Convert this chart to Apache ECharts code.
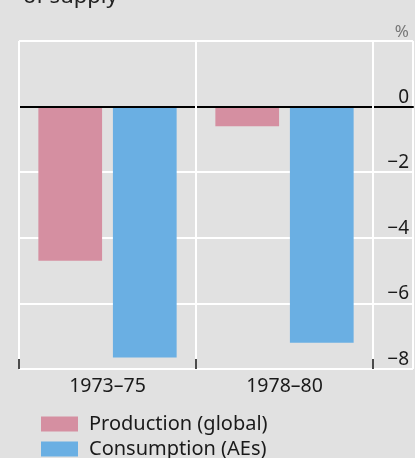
<!DOCTYPE html>
<html>
<head>
<meta charset="utf-8">
<script src="https://cdn.jsdelivr.net/npm/echarts@6/dist/echarts.min.js"></script>
<style>
html,body{margin:0;padding:0;background:#e1e1e1;}
#c{width:415px;height:458px;}
</style>
</head>
<body>
<div id="c"></div>
<script>
const categories = ['1973–75', '1978–80'];
const production = [-4.7, -0.6];
const consumption = [-7.65, -7.2];
const yTickValues = [-8, -6, -4, -2, 0, 2];
const yTickLabels = ['−8', '−6', '−4', '−2', '0', '%'];
const seriesNames = ['Production (global)', 'Consumption (AEs)'];

const FONT = 'Noto Sans';
const chart = echarts.init(document.getElementById('c'), null, {renderer: 'canvas'});
const legendCommon = {
  left: 41, padding: 0, itemWidth: 37, itemHeight: 15, icon: 'rect',
  textStyle: {fontFamily: FONT, fontSize: 20, color: '#1a1a1a', padding: [0, 0, 0, 6]}
};
const option = {
  backgroundColor: '#e1e1e1',
  textStyle: {fontFamily: FONT},
  animation: false,
  title: {
    text: 'of supply', left: 18, top: -19,
    textStyle: {fontFamily: FONT, fontSize: 22, fontWeight: 'normal', color: '#222'}
  },
  legend: [
    Object.assign({}, legendCommon, {top: 414, data: [seriesNames[0]]}),
    Object.assign({}, legendCommon, {top: 439, data: [seriesNames[1]]})
  ],
  grid: [
    {left: 19, right: 42, top: 41, bottom: 89},
    {left: 19, right: 2, top: 41, bottom: 89}
  ],
  xAxis: [
    {
      type: 'category', gridIndex: 0, data: categories, z: 11,
      axisLine: {show: false, onZero: false},
      axisTick: {show: true, inside: true, length: 10, lineStyle: {color: '#111', width: 1.5}},
      splitLine: {show: true, lineStyle: {color: '#ffffff', width: 2}},
      axisLabel: {fontFamily: FONT, fontSize: 19.5, color: '#1a1a1a', margin: 7}
    },
    {
      type: 'value', gridIndex: 1, min: 0, max: 1, interval: 1, z: 10,
      axisLine: {show: true, onZero: true, lineStyle: {color: '#000', width: 2}},
      axisTick: {show: false}, axisLabel: {show: false},
      splitLine: {show: true, lineStyle: {color: '#ffffff', width: 2}}
    }
  ],
  yAxis: [
    {
      type: 'value', gridIndex: 0, min: -8, max: 2, interval: 2,
      show: false
    },
    {
      type: 'value', gridIndex: 1, min: -8, max: 2, interval: 2, position: 'right',
      axisLine: {show: false}, axisTick: {show: false},
      splitLine: {show: true, lineStyle: {color: '#ffffff', width: 2}},
      axisLabel: {
        inside: true, margin: 4, verticalAlign: 'bottom', align: 'right',
        fontFamily: FONT, fontSize: 19, color: '#1a1a1a',
        formatter: function (v) {
          const i = yTickValues.indexOf(v);
          const t = i >= 0 ? yTickLabels[i] : '';
          return t === '%' ? '{u|%}' : t;
        },
        rich: {u: {color: '#777', fontSize: 17, fontFamily: FONT}}
      }
    }
  ],
  series: [
    {
      name: seriesNames[0], type: 'bar', xAxisIndex: 0, yAxisIndex: 0,
      data: production, barWidth: '36%', barGap: '17%',
      itemStyle: {color: '#d58fa1'}
    },
    {
      name: seriesNames[1], type: 'bar', xAxisIndex: 0, yAxisIndex: 0,
      data: consumption, barWidth: '36%', barGap: '17%',
      itemStyle: {color: '#6aafe3'}
    }
  ]
};
chart.setOption(option);
</script>
</body>
</html>
